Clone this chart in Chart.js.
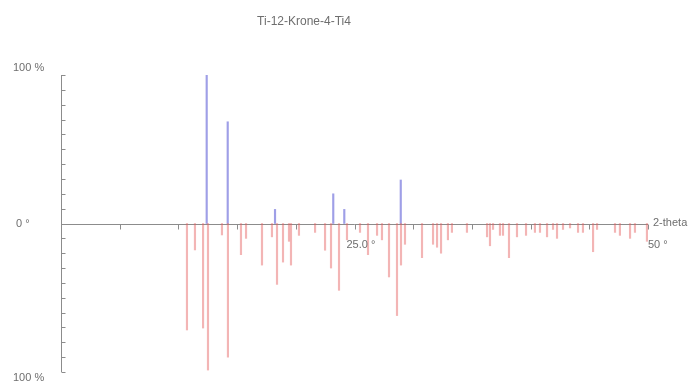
<!DOCTYPE html>
<html>
<head>
<meta charset="utf-8">
<title>Ti-12-Krone-4-Ti4</title>
<script src="https://cdn.jsdelivr.net/npm/chart.js@4/dist/chart.umd.min.js"></script>
<style>
  html, body { margin: 0; padding: 0; background: #ffffff; }
  #wrap { width: 693px; height: 383px; }
</style>
</head>
<body>
<div id="wrap"><canvas id="pattern" width="693" height="383"></canvas></div>
<script>
// Measured diffraction peaks (2-theta in degrees, relative intensity in %)
const measuredAngles    = [12.41, 14.20, 18.23, 23.19, 24.13, 28.94];
const measuredIntensity = [100, 68.5, 9.5, 20, 9.5, 29.3];

// Reference pattern peaks, drawn downward (2-theta in degrees, relative intensity in %)
const referenceAngles = [
  10.73, 11.41, 12.10, 12.52, 13.71, 14.22, 15.33, 15.76, 17.12, 17.97,
  18.40, 18.91, 19.42, 19.59, 20.27, 21.64, 22.49, 23.00, 23.68, 24.36,
  25.47, 26.15, 26.92, 27.34, 27.94, 28.62, 28.96, 29.30, 30.75, 31.69,
  32.03, 32.37, 32.96, 33.30, 34.58, 36.29, 36.54, 36.80, 37.39, 37.65,
  38.16, 38.84, 39.61, 40.37, 40.80, 41.40, 41.91, 42.25, 42.76, 43.36,
  44.04, 44.46, 45.32, 45.66, 47.19, 47.61, 48.47, 48.89, 49.91
];
const referenceIntensity = [
  71.7, 17.8, 70.4, 98.7, 7.7, 90, 21, 10, 28, 9,
  41, 26, 12, 28, 8, 6, 18, 30, 45, 11,
  6, 21, 8, 11, 36, 62, 28, 14, 23, 14,
  16, 20, 11, 6, 6, 9, 15, 4, 8, 8,
  23, 9, 8, 6, 6, 9, 4, 10, 4, 3,
  6, 6, 19, 4, 6, 8, 10, 6, 12
];

// Axis range and tick spacing
const angleRange = [0, 50];
const intensityRange = [-100, 100];
const angleTickStep = 5;
const intensityTickStep = 10;

// Axis and annotation texts
const titleText = 'Ti-12-Krone-4-Ti4';
const topLabel = '100 %';
const bottomLabel = '100 %';
const originLabel = '0 °';
const midAngleLabel = '25.0 °';
const endAngleLabel = '50 °';
const angleAxisName = '2-theta';

const measuredPoints = measuredAngles.map((a, i) => ({ x: a, y: measuredIntensity[i] }));
const referencePoints = referenceAngles.map((a, i) => ({ x: a, y: -referenceIntensity[i] }));

const textColor = '#6e6e6e';
const axisColor = '#8c8c8c';
const font = '11px "Liberation Sans", Arial, sans-serif';

// Draws the cross-shaped axes with their small ticks, plus all labels
const stickAxes = {
  id: 'stickAxes',
  beforeDatasetsDraw(chart) {
    const { ctx, scales: { x, y } } = chart;
    const x0 = Math.round(x.getPixelForValue(angleRange[0])) + 0.5;
    const y0 = Math.round(y.getPixelForValue(0)) + 0.5;
    const yTop = y.getPixelForValue(intensityRange[1]);
    const yBot = y.getPixelForValue(intensityRange[0]);
    const xEnd = x.getPixelForValue(angleRange[1]);
    ctx.save();
    ctx.strokeStyle = axisColor;
    ctx.lineWidth = 1;
    ctx.beginPath();
    ctx.moveTo(x0, yTop);
    ctx.lineTo(x0, yBot);
    ctx.moveTo(x0, y0);
    ctx.lineTo(xEnd, y0);
    for (let v = intensityRange[0]; v <= intensityRange[1]; v += intensityTickStep) {
      const py = Math.round(y.getPixelForValue(v)) + 0.5;
      ctx.moveTo(x0, py);
      ctx.lineTo(x0 + 4, py);
    }
    for (let a = angleRange[0] + angleTickStep; a <= angleRange[1]; a += angleTickStep) {
      const px = Math.round(x.getPixelForValue(a)) + 0.5;
      ctx.moveTo(px, y0);
      ctx.lineTo(px, y0 + 5);
    }
    ctx.stroke();
    ctx.restore();
  },
  afterDraw(chart) {
    const { ctx, scales: { x, y } } = chart;
    const y0 = y.getPixelForValue(0);
    const yTop = y.getPixelForValue(intensityRange[1]);
    const yBot = y.getPixelForValue(intensityRange[0]);
    const xEnd = x.getPixelForValue(angleRange[1]);
    ctx.save();
    ctx.fillStyle = textColor;
    ctx.font = '12px "Liberation Sans", Arial, sans-serif';
    ctx.textAlign = 'center';
    ctx.textBaseline = 'middle';
    ctx.fillText(titleText, 304, 22);
    ctx.font = font;
    ctx.textAlign = 'left';
    ctx.fillText(topLabel, 13, yTop - 7);
    ctx.fillText(originLabel, 16, y0);
    ctx.fillText(bottomLabel, 13, yBot + 6);
    ctx.fillText(midAngleLabel, x.getPixelForValue(25) - 8, y0 + 21);
    ctx.fillText(angleAxisName, xEnd + 5, y0 - 1);
    ctx.fillText(endAngleLabel, xEnd, y0 + 21);
    ctx.restore();
  }
};

new Chart(document.getElementById('pattern'), {
  type: 'bar',
  data: {
    datasets: [
      {
        label: 'reference',
        data: referencePoints,
        backgroundColor: 'rgba(228, 90, 90, 0.45)',
        borderWidth: 0,
        barThickness: 1.5,
        grouped: false
      },
      {
        label: 'measured',
        data: measuredPoints,
        backgroundColor: 'rgba(95, 95, 215, 0.6)',
        borderWidth: 0,
        barThickness: 1.5,
        grouped: false
      }
    ]
  },
  options: {
    responsive: false,
    animation: false,
    layout: { padding: { left: 61, right: 45, top: 75, bottom: 11 } },
    plugins: { legend: { display: false }, tooltip: { enabled: false }, title: { display: false } },
    scales: {
      x: { type: 'linear', min: angleRange[0], max: angleRange[1], offset: false, display: false },
      y: { type: 'linear', min: intensityRange[0], max: intensityRange[1], display: false }
    }
  },
  plugins: [stickAxes]
});
</script>
</body>
</html>
